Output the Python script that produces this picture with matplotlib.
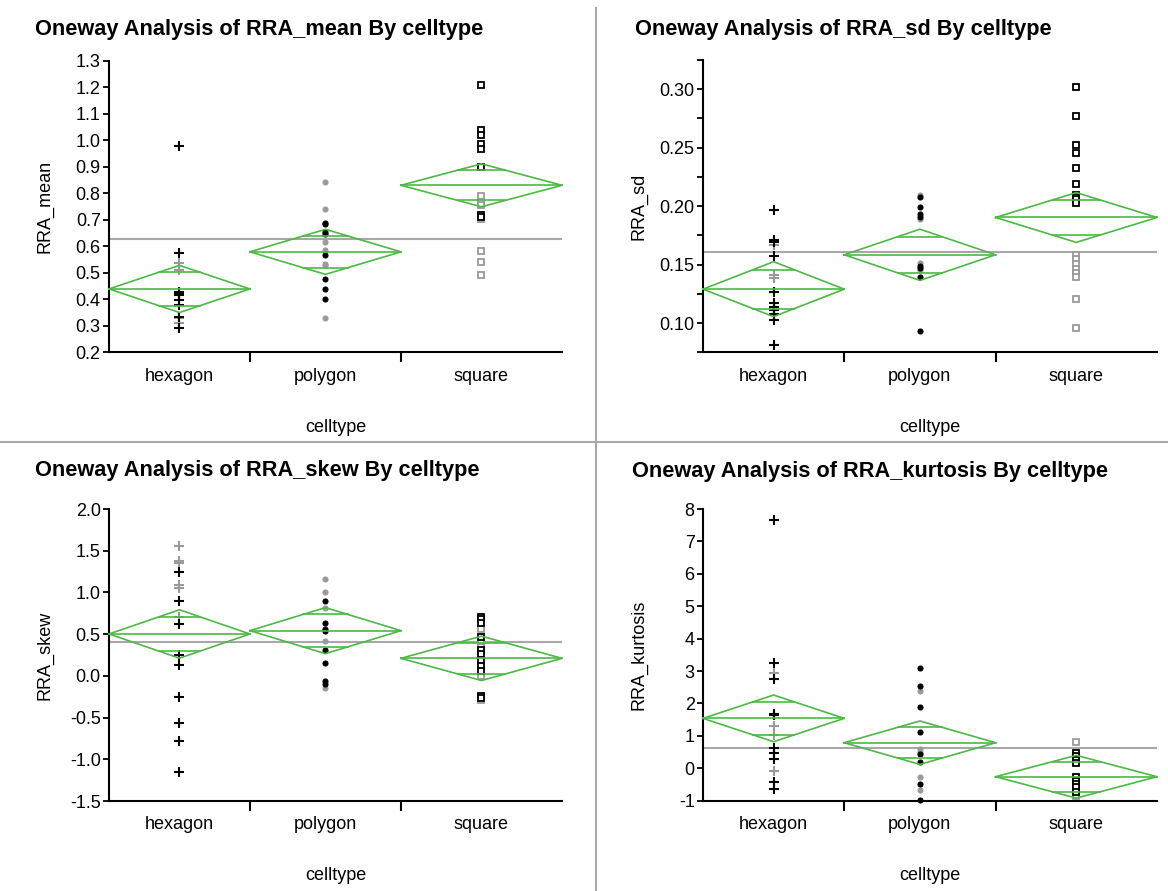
#!/usr/bin/env python3
"""Oneway analysis (JMP style) of RRA statistics by cell type, 2x2 panels."""
import numpy as np
import matplotlib.pyplot as plt
from matplotlib.ticker import MultipleLocator, FixedLocator, FormatStrFormatter

plt.rcParams['font.family'] = ['Liberation Sans', 'DejaVu Sans']
plt.rcParams['axes.unicode_minus'] = False

CELLTYPES = ["hexagon", "polygon", "square"]
GROUP_N = [14, 15, 16]  # group sizes -> x widths of the diamonds

# RRA_mean: [hexagon, polygon, square]
mean_black = [[0.977, 0.576, 0.429, 0.420, 0.416, 0.397, 0.378, 0.334, 0.293],
              [0.687, 0.683, 0.652, 0.648, 0.566, 0.476, 0.439, 0.401],
              [1.207, 1.037, 1.020, 0.984, 0.968, 0.900, 0.718, 0.710]]
mean_gray = [[0.536, 0.510, 0.330, 0.310],
             [0.843, 0.739, 0.616, 0.586, 0.534, 0.530, 0.328],
             [0.789, 0.766, 0.756, 0.703, 0.583, 0.541, 0.490]]
mean_center = [0.439, 0.579, 0.830]
mean_ci = [0.089, 0.085, 0.081]
mean_grand = 0.629

# RRA_sd
sd_black = [[0.197, 0.171, 0.169, 0.157, 0.1265, 0.117, 0.114, 0.111, 0.108, 0.103, 0.081],
            [0.2074, 0.1997, 0.1934, 0.191, 0.1484, 0.147, 0.139, 0.093],
            [0.3023, 0.2772, 0.2521, 0.2453, 0.2325, 0.219, 0.2097, 0.2075, 0.206, 0.2031]]
sd_gray = [[0.167, 0.141, 0.1385],
           [0.2097, 0.189, 0.1513, 0.145],
           [0.1584, 0.1547, 0.1507, 0.1465, 0.143, 0.1393, 0.1205, 0.0954]]
sd_center = [0.129, 0.1584, 0.1903]
sd_ci = [0.0235, 0.0219, 0.0213]
sd_grand = 0.161

# RRA_skew
skew_black = [[1.241, 0.893, 0.618, 0.25, 0.13, -0.257, -0.569, -0.777, -1.156],
              [0.897, 0.638, 0.558, 0.542, 0.31, 0.15, -0.062, -0.098],
              [0.709, 0.678, 0.63, 0.47, 0.31, 0.262, 0.19, 0.122, 0.062, -0.241, -0.265]]
skew_gray = [[1.557, 1.381, 1.349, 1.089, 1.049, 0.70],
             [1.165, 1.009, 0.817, 0.422, -0.141],
             [0.558, 0.39, 0.35, -0.002, -0.285]]
skew_center = [0.502, 0.542, 0.21]
skew_ci = [0.29, 0.276, 0.266]
skew_grand = 0.406

# RRA_kurtosis
kurt_black = [[7.66, 3.26, 2.74, 1.69, 1.64, 0.64, 0.46, 0.28, -0.42, -0.64],
              [3.09, 2.55, 1.90, 1.13, 0.44, 0.18, -0.47, -0.98],
              [0.48, 0.38, 0.27, 0.15, -0.26, -0.38, -0.47, -0.59, -0.72]]
kurt_gray = [[2.93, 1.30, 1.02, -0.08],
             [2.39, 0.58, 0.51, -0.26, -0.67],
             [0.80, -0.86]]
kurt_center = [1.54, 0.79, -0.26]
kurt_ci = [0.72, 0.67, 0.66]
kurt_grand = 0.634

W, H = 1168, 891
GREEN = "#4cb944"
GRAY_PT = "#9a9a9a"
GRAY_LINE = "#a8a8a8"
MARKERS = [dict(marker="+", ms=6.5, mew=1.5),
           dict(marker="o", ms=3.6, mew=0.8),
           dict(marker="s", ms=4.6, mew=1.3, mfc="white")]


def px_axes(fig, left, top, right, bottom):
    return fig.add_axes([left / W, 1 - bottom / H, (right - left) / W, (bottom - top) / H])


def draw_panel(fig, box, title_xy, black, gray, center, ci, grand,
               ylim, major, minor, fmt, ylabel):
    left, top, right, bottom = box
    ax = px_axes(fig, left, top, right, bottom)
    edges = np.concatenate([[0], np.cumsum(GROUP_N)])
    mids = (edges[:-1] + edges[1:]) / 2

    ax.axhline(grand, color=GRAY_LINE, lw=1.5, zorder=1)
    for i in range(3):
        for vals, col in ((gray[i], GRAY_PT), (black[i], "black")):
            ax.plot([mids[i]] * len(vals), vals, ls="none", color=col,
                    mec=col, clip_on=False, zorder=2, **MARKERS[i])
        x0, x1, xc = edges[i], edges[i + 1], mids[i]
        m, h = center[i], ci[i]
        ax.plot([x0, xc, x1, xc, x0], [m, m + h, m, m - h, m],
                color=GREEN, lw=1.2, zorder=3, clip_on=False)
        ax.plot([x0, x1], [m, m], color=GREEN, lw=1.2, zorder=3, clip_on=False)
        hw = (x1 - x0) / 2 * (1 - 1 / np.sqrt(2))
        for s in (1, -1):
            ax.plot([xc - hw, xc + hw], [m + s * h / np.sqrt(2)] * 2,
                    color=GREEN, lw=1.2, zorder=3)

    ax.set_xlim(0, edges[-1])
    ax.set_ylim(*ylim)
    for sp in ("top", "right"):
        ax.spines[sp].set_visible(False)
    for sp in ("left", "bottom"):
        ax.spines[sp].set_linewidth(1.5)
    ax.xaxis.set_major_locator(FixedLocator(edges[1:-1]))
    ax.xaxis.set_major_formatter(plt.NullFormatter())
    ax.xaxis.set_minor_locator(FixedLocator(mids))
    ax.set_xticklabels(CELLTYPES, minor=True)
    ax.tick_params(axis="x", which="major", length=7, width=1.5, direction="out")
    ax.tick_params(axis="x", which="minor", length=0, pad=11, labelsize=13)
    ax.yaxis.set_major_locator(MultipleLocator(major))
    if minor:
        ax.yaxis.set_minor_locator(MultipleLocator(minor))
    ax.yaxis.set_major_formatter(FormatStrFormatter(fmt))
    ax.tick_params(axis="y", which="major", length=4.5, width=1.3, pad=1.5, labelsize=13)
    ax.tick_params(axis="y", which="minor", length=4.5, width=1.3)
    ax.set_facecolor("none")

    cx = (left + right) / 2
    fig.text(cx / W, 1 - (bottom + 75) / H, "celltype", ha="center", va="center", fontsize=13)
    fig.text((left - 64) / W, 1 - (top + bottom) / 2 / H, ylabel, rotation=90,
             ha="center", va="center", fontsize=13)
    fig.text(title_xy[0] / W, 1 - title_xy[1] / H, f"Oneway Analysis of {ylabel} By celltype",
             ha="left", va="center", fontsize=15.7, fontweight="bold")
    return ax


def main() -> None:
    fig = plt.figure(figsize=(W / 100, H / 100), dpi=100)

    draw_panel(fig, (109, 60.7, 562, 352.3), (35, 29), mean_black, mean_gray,
               mean_center, mean_ci, mean_grand, (0.2, 1.3), 0.1, None, "%.1f", "RRA_mean")
    draw_panel(fig, (703, 60, 1157, 352.3), (635, 29), sd_black, sd_gray,
               sd_center, sd_ci, sd_grand, (0.075, 0.325), 0.05, 0.025, "%.2f", "RRA_sd")
    draw_panel(fig, (109, 509, 562, 801), (35, 470), skew_black, skew_gray,
               skew_center, skew_ci, skew_grand, (-1.5, 2.0), 0.5, None, "%.1f", "RRA_skew")
    draw_panel(fig, (703, 509, 1157, 800.7), (632, 471), kurt_black, kurt_gray,
               kurt_center, kurt_ci, kurt_grand, (-1, 8), 1, None, "%d", "RRA_kurtosis")

    # panel dividers
    fig.add_artist(plt.Line2D([596 / W, 596 / W], [0, 1 - 8 / H], color=GRAY_LINE, lw=1.5))
    fig.add_artist(plt.Line2D([0, 1], [1 - 442 / H, 1 - 442 / H], color=GRAY_LINE, lw=1.5))

    fig.savefig("out.png", dpi=100, facecolor="white")
    plt.close(fig)


if __name__ == "__main__":
    main()
